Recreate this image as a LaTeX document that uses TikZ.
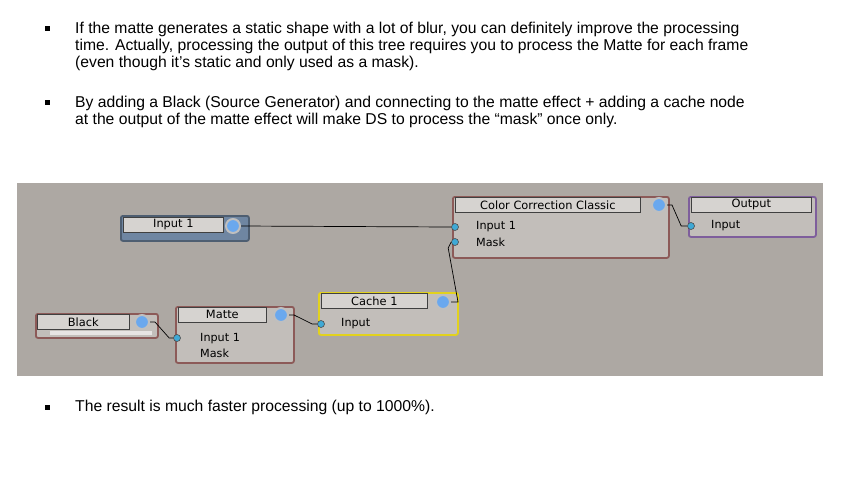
\documentclass[tikz,border=0pt]{standalone}
\usepackage{fontspec}
\setmainfont{Liberation Sans}
\newfontfamily\fxfont{DejaVu Sans}
\usepackage{xcolor}
\usetikzlibrary{calc,positioning}
\definecolor{panelgray}{HTML}{ADA8A3}
\definecolor{bodygray}{HTML}{C2BEBA}
\definecolor{titlegray}{HTML}{D6D3D0}
\definecolor{effectred}{HTML}{8C5A58}
\definecolor{sourceblue}{HTML}{6F86A2}
\definecolor{cacheyellow}{HTML}{E2D21E}
\definecolor{outpurple}{HTML}{7E5E9C}
\definecolor{portblue}{HTML}{6AA8EE}
\definecolor{portcyan}{HTML}{3FA9D6}
\tikzset{
  bullettext/.style={anchor=north west, align=left, inner sep=0pt, font=\fontsize{15.7}{17.2}\selectfont},
  bulletmark/.style={fill=black, minimum size=5pt, inner sep=0pt},
  fxbody/.style={draw=#1, fill=bodygray, line width=1.8pt, rounded corners=2pt, anchor=north west, inner sep=0pt},
  fxtitle/.style={draw=black!75, fill=titlegray, line width=0.7pt, anchor=north west, inner sep=0pt, minimum height=15pt, font=\fxfont\fontsize{11.4}{12}\selectfont},
  fxlabel/.style={anchor=west, inner sep=0pt, font=\fxfont\fontsize{11.2}{12}\selectfont},
  outport/.style={circle, fill=portblue, draw=gray!50, line width=2pt, inner sep=0pt, minimum size=14pt},
  inport/.style={circle, fill=portcyan, draw=black!70, line width=0.6pt, inner sep=0pt, minimum size=7pt},
  wire/.style={black, line width=0.7pt}
}
\begin{document}
\begin{tikzpicture}[x=1pt,y=-1pt]
  \useasboundingbox[fill=white] (0,0) rectangle (842,485);
  % text above and below the panel
  \node[bulletmark] (b1) at (47,28) {};
  \node[bullettext] (t1) at (75,21.5) {If the matte generates a static shape with a lot of blur, you can definitely improve the processing\\time. Actually, processing the output of this tree requires you to process the Matte for each frame\\(even though it’s static and only used as a mask).};
  \node[bulletmark] (b2) at (47,102) {};
  \node[bullettext] (t2) at (75,95.5) {By adding a Black (Source Generator) and connecting to the matte effect + adding a cache node\\at the output of the matte effect will make DS to process the “mask” once only.};
  \node[bulletmark] (b3) at (47,407) {};
  \node[bullettext] (t3) at (75,399.5) {The result is much faster processing (up to 1000\%).};
  % panel
  \fill[panelgray] (17,183) rectangle (823,376);
  % Input 1
  \node[fxbody=sourceblue!70!black, fill=sourceblue, minimum width=128pt, minimum height=25pt] (in1) at (120,215) {};
  \node[fxtitle, minimum width=100pt] (in1-t) at (123,217) {Input 1};
  \node[outport] (in1-out) at (233,226) {};
  % Black
  \node[fxbody=effectred, minimum width=122pt, minimum height=24pt] (blk) at (35,313) {};
  \node[fxtitle, minimum width=92pt] (blk-t) at (37,314) {Black};
  \fill[titlegray!60!white] (50,331) rectangle (152,335);
  \node[outport] (blk-out) at (142,322) {};
  % Matte
  \node[fxbody=effectred, minimum width=118pt, minimum height=56pt] (mat) at (175,306) {};
  \node[fxtitle, minimum width=88pt] (mat-t) at (178,307) {Matte};
  \node[outport] (mat-out) at (281,315) {};
  \node[inport] (mat-in) at (177,338) {};
  \node[fxlabel] (mat-l1) at (200,339) {Input 1};
  \node[fxlabel] (mat-l2) at (200,353) {Mask};
  % Cache 1
  \node[fxbody=cacheyellow, minimum width=139pt, minimum height=42pt] (cch) at (318,292) {};
  \node[fxtitle, minimum width=106pt] (cch-t) at (321,293) {Cache 1};
  \node[outport] (cch-out) at (443,302) {};
  \node[inport] (cch-in) at (321,324) {};
  \node[fxlabel] (cch-l1) at (341,324) {Input};
  % Color Correction Classic
  \node[fxbody=effectred, minimum width=216pt, minimum height=61pt] (ccc) at (452,196) {};
  \node[fxtitle, minimum width=185pt] (ccc-t) at (455,197) {Color Correction Classic};
  \node[outport] (ccc-out) at (659,205) {};
  \node[inport] (ccc-in) at (455,227) {};
  \node[inport] (ccc-mask) at (455,242) {};
  \node[fxlabel] (ccc-l1) at (476,227) {Input 1};
  \node[fxlabel] (ccc-l2) at (476,242) {Mask};
  % Output
  \node[fxbody=outpurple, minimum width=127pt, minimum height=40pt] (out) at (688,196) {};
  \node[fxtitle, minimum width=120pt] (out-t) at (691,197) {Output};
  \node[inport] (out-in) at (691,226) {};
  \node[fxlabel] (out-l1) at (711,226) {Input};
  % wires
  \draw[wire] (in1-out.east) -- (ccc-in.west);
  \draw[wire] (blk-out.east) -- ++(5,0) -- ($(mat-in.west)+(-4,0)$) -- (mat-in.west);
  \draw[wire] (mat-out.east) -- ++(5,0) -- ($(cch-in.west)+(-5,0)$) -- (cch-in.west);
  \draw[wire] (cch-out.east) -- ++(7,0) -- ($(ccc-mask.west)+(-3,6)$) -- (ccc-mask.west);
  \draw[wire] (ccc-out.east) -- ++(5,0) -- ($(out-in.west)+(-6,0)$) -- (out-in.west);
\end{tikzpicture}
\end{document}
